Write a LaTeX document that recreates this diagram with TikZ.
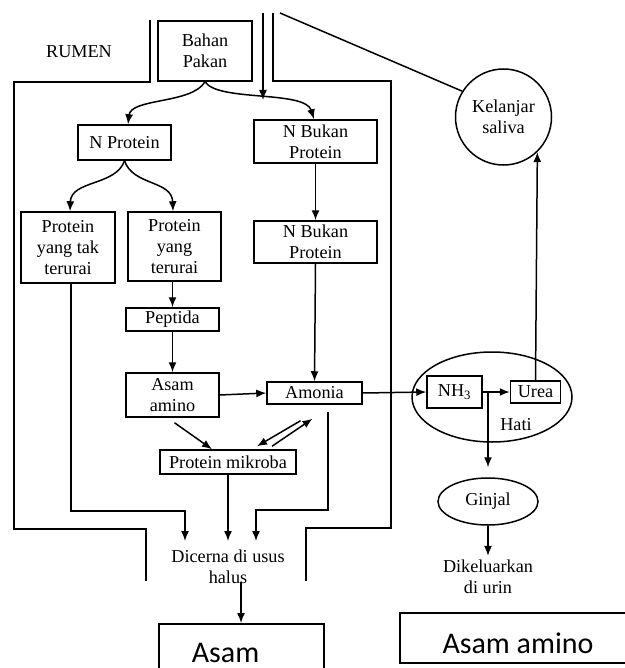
\documentclass[tikz,border=0pt]{standalone}
\usepackage{fontspec}
\setmainfont{Liberation Serif}
\newfontfamily\calib{Carlito}
\usetikzlibrary{arrows.meta,shapes.geometric,calc}
\begin{document}
\begin{tikzpicture}[x=1pt,y=-1pt,
  every node/.style={font=\fontsize{18.2}{21}\selectfont, align=center, inner sep=0pt},
  box/.style={draw, line width=1.5pt, rectangle},
  arr/.style={-{Latex[length=10pt,width=8pt]}, line width=1.5pt},
  ln/.style={line width=1.5pt},
  big/.style={font=\calib\fontsize{30}{36}\selectfont}]
\useasboundingbox (0,0) rectangle (624,668);
\fill[white] (0,0) rectangle (624,668);

% rumen walls
\draw[ln] (150,20) -- (150,82) -- (14,82) -- (14,529) -- (146,529) -- (146,581);
\draw[ln] (273,13) -- (273,81) -- (391,81) -- (391,528) -- (306,528) -- (306,581);

% nodes
\node (rumen) at (79,52) {RUMEN};
\node[box, minimum width=94pt, minimum height=60pt] (bahan) at (205,51) {Bahan\\Pakan};
\node[box, minimum width=93pt, minimum height=35pt] (nprot) at (124.5,142.5) {N Protein};
\node[box, minimum width=123pt, minimum height=43pt] (nb1) at (315.5,141.5) {N Bukan\\Protein};
\node[box, minimum width=94pt, minimum height=71pt] (tak) at (68,247.5) {Protein\\yang tak\\terurai};
\node[box, minimum width=93pt, minimum height=69pt] (ter) at (174.5,246.5) {Protein\\yang\\terurai};
\node[box, minimum width=123pt, minimum height=42pt] (nb2) at (315.5,242) {N Bukan\\Protein};
\node[box, minimum width=93pt, minimum height=23pt] (pep) at (172.5,319.5) {Peptida};
\node[box, minimum width=93pt, minimum height=44pt] (asam) at (172.5,395) {Asam\\amino};
\node[box, minimum width=95pt, minimum height=22pt] (amon) at (314.5,393) {Amonia};
\node[box, minimum width=136pt, minimum height=24pt] (mik) at (228,462) {Protein mikroba};
\node[draw, circle, line width=1.5pt, minimum size=96pt] (kel) at (503.5,117) {Kelanjar\\saliva};
\node[draw, ellipse, line width=1.5pt, minimum width=160pt, minimum height=90pt] (hati) at (492,397) {};
\node[box, minimum width=55pt, minimum height=32pt] (nh3) at (454.5,392) {NH\textsubscript{3}};
\node[box, minimum width=50pt, minimum height=22pt] (urea) at (535.5,392) {Urea};
\node (hatil) at (516,425) {Hati};
\node[draw, ellipse, line width=1.5pt, minimum width=100pt, minimum height=47pt] (ginjal) at (488,501.5) {Ginjal};
\node (dikel) at (488,577) {Dikeluarkan\\di urin};
\node (dicerna) at (228,567) {Dicerna di usus\\halus};
\node[box, anchor=north west, minimum width=165pt, minimum height=60pt] (asam1) at (158,623) {};
\node[big] (asam1t) at (225.5,652.5) {Asam};
\node[box, anchor=north west, minimum width=228pt, minimum height=50pt] (asam2) at (399,612) {};
\node[big] (asam2t) at (518,643.5) {Asam amino};

% free ends
\coordinate (feed) at (263,13);
\coordinate (saltop) at (280,13);
\coordinate (feedend) at (263,100);

% connectors
\draw[arr] (feed) -- (feedend);
\draw[ln] (saltop) -- (kel.148);
\draw[arr] (bahan.south) .. controls (192,104) and (131,98) .. (nprot.north -| 128,0);
\draw[arr] (bahan.south) .. controls (218,102) and (305,90) .. (nb1.north -| 314,0);
\draw[arr] (nprot.south) .. controls (116,186) and (71,180) .. (tak.north -| 70,0);
\draw[arr] (nprot.south) .. controls (133,186) and (172,180) .. (ter.north -| 173,0);
\draw[arr] (nb1.south) -- (nb2.north);
\draw[arr] (ter.south -| pep.north) -- (pep.north);
\draw[arr] (pep.south) -- (asam.north);
\draw[arr] (nb2.south) -- (amon.north);
\draw[arr] (asam.east) -- (amon.west);
\draw[arr] ($(asam.south)+(2,5)$) -- (mik.north -| 212,0);
\draw[arr] ($(amon.south)+(-14,16)$) -- ($(mik.north)+(29,-3)$);
\draw[arr] ($(mik.north)+(44,-3)$) -- ($(amon.south)+(-2,14)$);
\draw[arr] (amon.east) -- (nh3.west);
\draw[arr] (nh3.east) -- (urea.west);
\draw[arr, shorten >=10pt] (nh3.east -| ginjal.north) -- (ginjal.north);
\draw[arr] (urea.north) -- (kel.-46.6);
\draw[arr] (ginjal.south) -- ($(dikel.north)+(0,-4)$);
\draw[arr] (tak.south -| 71,0) -- (71,511) -- (185,511) -- (185,541);
\draw[arr] (mik.south) -- (228,541);
\draw[arr] (328,412) -- (328,510) -- (256,510) -- (256,541);
\draw[arr] (241,582) -- (asam1.north -| 241,0);
\end{tikzpicture}
\end{document}
